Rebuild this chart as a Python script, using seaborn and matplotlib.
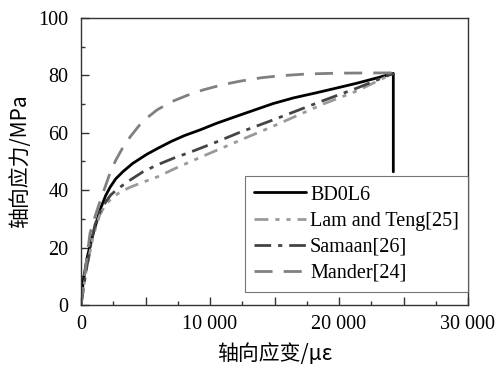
import pandas as pd
import matplotlib
matplotlib.use('Agg')
import matplotlib.pyplot as plt
import seaborn as sns
from matplotlib.ticker import MultipleLocator, FuncFormatter

# strain (micro-strain) and stress (MPa)
bd_strain = [0, 180, 500, 955, 1470, 1900, 2250, 2700, 3260, 4000, 5100,
             6000, 7000, 8000, 9225, 10500, 12330, 14900, 16500, 18290,
             20000, 21400, 23000, 24210, 24210]
bd_stress = [0, 8.7, 17, 25, 33, 38, 41, 44, 46.5, 49.3, 52.5,
             54.7, 57, 59, 61, 63.3, 66.2, 70.2, 72.2, 74,
             75.8, 77.3, 79.2, 80.7, 46.4]

lam_strain = [0, 400, 900, 1200, 1470, 1900, 2480, 3100, 3800, 4800, 5900,
              7500, 9225, 12330, 14900, 18760, 21400, 24210]
lam_stress = [0, 12, 23, 28, 31.5, 35, 37.6, 39.5, 41, 42.8, 44.6,
              48, 51.4, 57.4, 62.3, 70, 74.6, 80.7]

sam_strain = [0, 400, 800, 1085, 1470, 1900, 2300, 2800, 3260, 3800, 4800,
              5900, 7200, 8500, 10500, 12330, 14900, 16800, 18760, 21400,
              24210]
sam_stress = [0, 12, 22, 28, 32.5, 35.8, 38.3, 40.3, 41.8, 43.5, 46.4,
              48.8, 51.2, 53.3, 56.8, 60.2, 64.5, 67.8, 71.2, 75.6,
              80.7]

man_strain = [0, 300, 700, 1100, 1470, 1900, 2250, 2700, 3200, 3800, 4500,
              5200, 5900, 7000, 8200, 9500, 11000, 12330, 14000, 15500,
              17500, 20000, 24210]
man_stress = [0, 11, 25, 31, 36, 41.5, 46, 50.5, 54.5, 58.5, 62.5,
              65.5, 68, 70.8, 73, 75, 76.8, 78, 79.2, 79.9,
              80.5, 80.8, 80.9]

labels = ['BD0L6', 'Lam and Teng[25]', 'Samaan[26]', 'Mander[24]']

sns.set_style('ticks')
plt.rcParams['font.family'] = ['Liberation Serif', 'Noto Sans CJK SC']
plt.rcParams['text.color'] = 'black'
plt.rcParams['axes.labelcolor'] = 'black'
plt.rcParams['xtick.labelcolor'] = 'black'
plt.rcParams['ytick.labelcolor'] = 'black'

fig, ax = plt.subplots(figsize=(5, 3.76), dpi=100)
fig.subplots_adjust(left=0.162, right=0.936, bottom=0.189, top=0.952)

kw = dict(ax=ax, lw=2.0, sort=False, estimator=None)
sns.lineplot(x=bd_strain, y=bd_stress, color='black', label=labels[0], **kw)
sns.lineplot(x=lam_strain, y=lam_stress, color='#9a9a9a', label=labels[1],
             **kw)
sns.lineplot(x=sam_strain, y=sam_stress, color='#444444', label=labels[2],
             **kw)
sns.lineplot(x=man_strain, y=man_stress, color='#808080', label=labels[3],
             **kw)
lines = ax.get_lines()
lines[1].set_dashes([5, 2.5, 1.5, 2.5, 1.5, 2.5])
lines[2].set_dashes([6, 2.5, 1.5, 2.5])
lines[3].set_dashes([6.5, 4])

ax.set_xlim(0, 30000)
ax.set_ylim(0, 100)
ax.xaxis.set_major_locator(MultipleLocator(5000))
ax.xaxis.set_minor_locator(MultipleLocator(2500))
ax.yaxis.set_major_locator(MultipleLocator(20))
ax.yaxis.set_minor_locator(MultipleLocator(10))


def fmt_x(v, pos):
    if int(v) % 10000 != 0:
        return ''
    return f'{int(v):,}'.replace(',', ' ')


ax.xaxis.set_major_formatter(FuncFormatter(fmt_x))
ax.tick_params(which='major', direction='in', length=6, width=1,
               labelsize=14.5, color='#333333', labelcolor='black')
ax.tick_params(which='minor', direction='in', length=3, width=1,
               color='#333333')
ax.tick_params(axis='x', pad=7)
ax.tick_params(axis='y', pad=9)
for s in ax.spines.values():
    s.set_color('#333333')
    s.set_linewidth(1.0)

ax.set_xlabel('轴向应变/με', fontsize=15, labelpad=7,
              family=['Noto Sans CJK SC', 'DejaVu Sans'])
ax.set_ylabel('轴向应力/MPa', fontsize=15, labelpad=5,
              family=['Noto Sans CJK SC', 'DejaVu Sans'])

leg = ax.legend(loc='lower right', bbox_to_anchor=(1.0, 0.045),
                borderaxespad=0, fontsize=14.5, frameon=True, fancybox=False,
                handlelength=2.6, handletextpad=0.2, labelspacing=0.35,
                borderpad=0.45)
leg.get_frame().set_edgecolor('#555555')
leg.get_frame().set_linewidth(0.8)

fig.savefig('out.png', dpi=100)
